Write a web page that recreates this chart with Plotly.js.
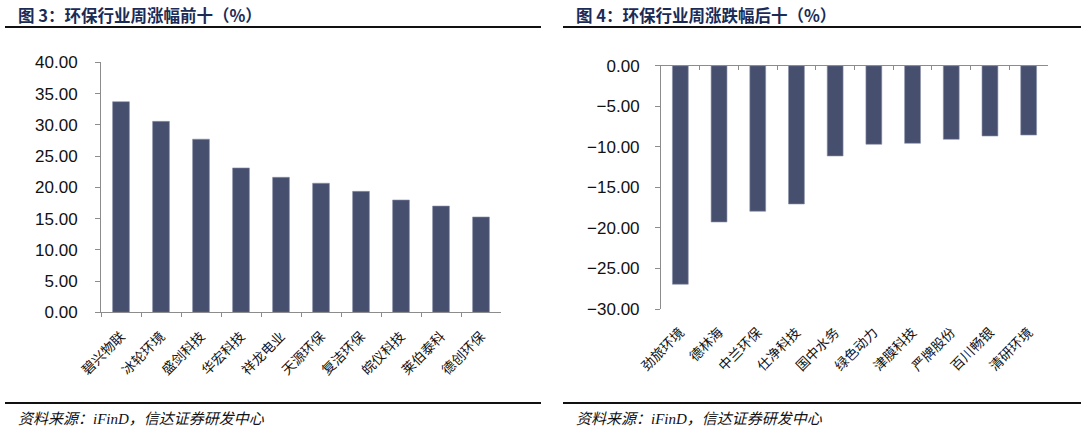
<!DOCTYPE html>
<html>
<head>
<meta charset="utf-8">
<script src="https://cdn.plot.ly/plotly-3.0.1.min.js"></script>
<style>html,body{margin:0;padding:0;background:#fff;}#chart{width:1088px;height:434px;}</style>
</head>
<body>
<div id="chart"></div>
<script>
const topNames = ['碧兴物联','冰轮环境','盛剑科技','华宏科技','祥龙电业','天源环保','复洁环保','皖仪科技','莱伯泰科','德创环保'];
const topValues = [33.7, 30.55, 27.7, 23.1, 21.6, 20.65, 19.35, 17.97, 17.0, 15.25];
const bottomNames = ['劲旅环境','德林海','中兰环保','仕净科技','国中水务','绿色动力','津膜科技','严牌股份','百川畅银','清研环境'];
const bottomValues = [-26.95, -19.27, -17.95, -17.05, -11.13, -9.69, -9.57, -9.08, -8.67, -8.55];
const leftTitle = '图 3：环保行业周涨幅前十（%）';
const rightTitle = '图 4：环保行业周涨跌幅后十（%）';
const sourceText = '资料来源：iFinD，信达证券研发中心';

const W = 1088, H = 434;
const px = v => v / W;
const py = v => 1 - v / H;
const barColor = '#474f6e';
const axisColor = '#8c8c8c';
const numFont = {family: 'Liberation Sans, Arial, sans-serif', size: 17, color: '#111'};
const catFont = {family: 'Noto Sans CJK SC, sans-serif', size: 13.5, color: '#111'};
const titleFont = {family: 'Noto Sans CJK SC, sans-serif', size: 16.5, color: '#1b2b56'};
const srcFont = {family: 'Liberation Serif, Noto Sans CJK SC, serif', size: 15, color: '#111', style: 'italic'};

const traces = [
  {type: 'bar', x: topNames, y: topValues, xaxis: 'x', yaxis: 'y', width: 0.42,
   marker: {color: barColor, line: {color: '#8a90a8', width: 0.6}}, hoverinfo: 'x+y'},
  {type: 'bar', x: bottomNames, y: bottomValues, xaxis: 'x2', yaxis: 'y2', width: 0.41,
   marker: {color: barColor, line: {color: '#8a90a8', width: 0.6}}, hoverinfo: 'x+y'},
  {type: 'bar', x: bottomNames, y: bottomValues.map(() => null), xaxis: 'x3', yaxis: 'y2',
   hoverinfo: 'skip', showlegend: false}
];

const layout = {
  width: W, height: H,
  margin: {l: 0, r: 0, t: 0, b: 0},
  paper_bgcolor: '#fff', plot_bgcolor: 'rgba(0,0,0,0)',
  showlegend: false,
  bargap: 0.58,
  xaxis: {domain: [px(101), px(501)], anchor: 'y', type: 'category',
    showline: true, linecolor: axisColor, linewidth: 1,
    ticks: 'outside', ticklen: 4, tickcolor: axisColor, tickson: 'boundaries',
    tickangle: -45, tickfont: catFont, ticklabelstandoff: 10,
    showgrid: false, zeroline: false, fixedrange: true},
  yaxis: {domain: [py(312.3), py(62.3)], anchor: 'x', range: [0, 40], dtick: 5,
    tickformat: '.2f', tickfont: numFont,
    showline: true, linecolor: axisColor, linewidth: 1,
    ticks: 'outside', ticklen: 5, tickcolor: axisColor, ticklabelstandoff: 14,
    showgrid: false, zeroline: false, fixedrange: true},
  xaxis2: {domain: [px(661), px(1048)], anchor: 'y2', type: 'category',
    showline: false, ticks: '', tickangle: -45, tickfont: catFont, ticklabelstandoff: 12,
    showgrid: false, zeroline: false, fixedrange: true},
  xaxis3: {overlaying: 'x2', anchor: 'y2', side: 'top', type: 'category',
    showline: true, linecolor: axisColor, linewidth: 1,
    ticks: 'inside', ticklen: 4, tickcolor: axisColor, tickson: 'boundaries',
    showticklabels: false, showgrid: false, zeroline: false, fixedrange: true},
  yaxis2: {domain: [py(309), py(65.7)], anchor: 'x2', range: [-30, 0], dtick: 5,
    tickformat: '.2f', tickfont: numFont,
    showline: true, linecolor: axisColor, linewidth: 1,
    ticks: 'outside', ticklen: 5, tickcolor: axisColor, ticklabelstandoff: 12,
    showgrid: false, zeroline: false, fixedrange: true},
  shapes: [
    {type: 'line', xref: 'paper', yref: 'paper', x0: px(5), x1: px(541), y0: py(27), y1: py(27), line: {color: '#111', width: 2}},
    {type: 'line', xref: 'paper', yref: 'paper', x0: px(563), x1: px(1081), y0: py(27), y1: py(27), line: {color: '#111', width: 2}},
    {type: 'line', xref: 'paper', yref: 'paper', x0: px(5), x1: px(541), y0: py(403), y1: py(403), line: {color: '#111', width: 2}},
    {type: 'line', xref: 'paper', yref: 'paper', x0: px(563), x1: px(1081), y0: py(403), y1: py(403), line: {color: '#111', width: 2}}
  ],
  annotations: [
    {text: '<b>' + leftTitle + '</b>', xref: 'paper', yref: 'paper', x: px(16), y: py(15), xanchor: 'left', yanchor: 'middle', showarrow: false, font: titleFont},
    {text: '<b>' + rightTitle + '</b>', xref: 'paper', yref: 'paper', x: px(574), y: py(15), xanchor: 'left', yanchor: 'middle', showarrow: false, font: titleFont},
    {text: sourceText, xref: 'paper', yref: 'paper', x: px(16), y: py(419), xanchor: 'left', yanchor: 'middle', showarrow: false, font: srcFont},
    {text: sourceText, xref: 'paper', yref: 'paper', x: px(574), y: py(419), xanchor: 'left', yanchor: 'middle', showarrow: false, font: srcFont}
  ]
};

Plotly.newPlot('chart', traces, layout, {displayModeBar: false, staticPlot: true});
</script>
</body>
</html>
